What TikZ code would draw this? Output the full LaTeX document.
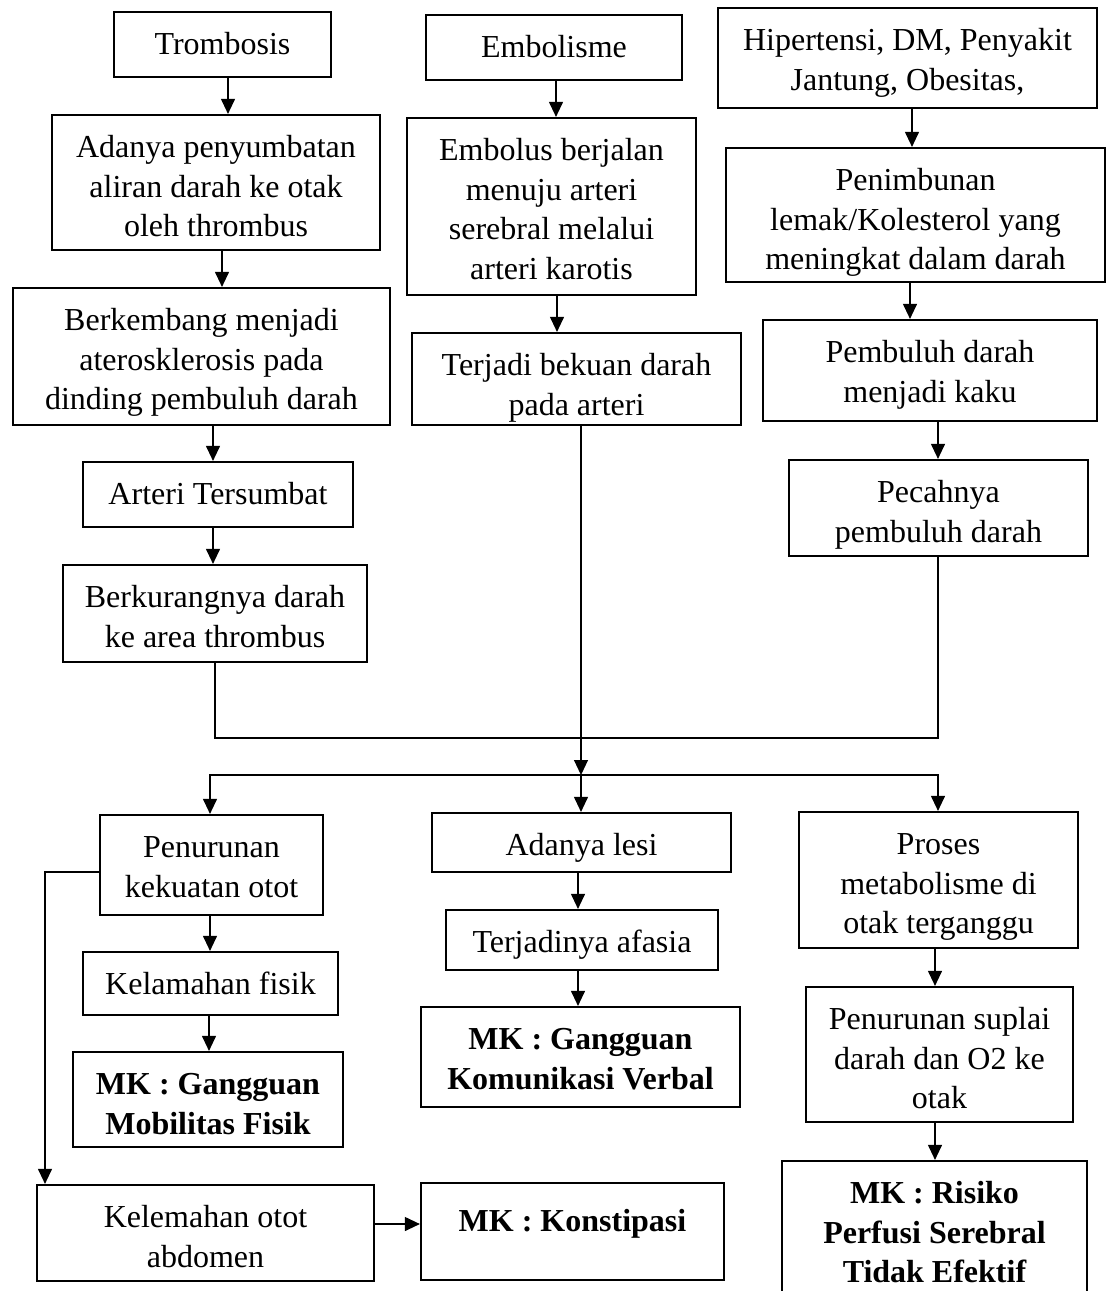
\documentclass[tikz,border=0pt]{standalone}
\usepackage{fontspec}
\setmainfont{Liberation Serif}
\usetikzlibrary{arrows.meta}
\newcommand\firstbl{21.25pt}
\tikzset{
  box/.style={draw, line width=1.1pt, inner sep=0pt, font=\fontsize{16}{19.75}\selectfont},
  bbox/.style={box, font=\bfseries\fontsize{16}{19.75}\selectfont},
  tb/.style n args={5}{at={({(#1+#3)/2},{(#2+#4)/2})},
    node contents={\parbox[c][\dimexpr(#4pt-#2pt)/2\relax][t]{\dimexpr(#3pt-#1pt)/2\relax}{\centering\rule{0pt}{\firstbl}#5\par}}},
  arr/.style={line width=0.55pt, -{Triangle[width=7pt,length=7.5pt]}},
  ln/.style={line width=0.55pt},
}
\begin{document}
\begin{tikzpicture}[x=0.5pt, y=-0.5pt]
\fill[white] (0,0) rectangle (1110,1291);
\useasboundingbox (0,0) rectangle (1110,1291);
% left column
\node (trom) [box, tb={114}{12}{331}{77}{Trombosis}];
\node (adanya) [box, tb={52}{115}{380}{250}{Adanya penyumbatan\\aliran darah ke otak\\oleh thrombus}];
\node (berk1) [box, tb={13}{288}{390}{425}{Berkembang menjadi\\aterosklerosis pada\\dinding pembuluh darah}];
\node (arteri) [box, tb={83}{462}{353}{527}{Arteri Tersumbat}];
\node (kurang) [box, tb={63}{565}{367}{662}{Berkurangnya darah\\ke area thrombus}];
% middle column
\node (emb) [box, tb={426}{15}{682}{80}{Embolisme}];
\node (embolus) [box, tb={407}{118}{696}{295}{Embolus berjalan\\menuju arteri\\serebral melalui\\arteri karotis}];
\node (terjadi) [box, tb={412}{333}{741}{425}{Terjadi bekuan darah\\pada arteri}];
% right column
\node (hip) [box, tb={718}{8}{1097}{108}{Hipertensi, DM, Penyakit\\Jantung, Obesitas,}];
\node (penimb) [box, tb={726}{148}{1105}{282}{Penimbunan\\lemak/Kolesterol yang\\meningkat dalam darah}];
\node (kaku) [box, tb={763}{320}{1097}{421}{Pembuluh darah\\menjadi kaku}];
\node (pecah) [box, tb={789}{460}{1088}{556}{Pecahnya\\pembuluh darah}];
% bottom
\node (penur) [box, tb={100}{815}{323}{915}{Penurunan\\kekuatan otot}];
\node (fisik) [box, tb={83}{952}{338}{1015}{Kelamahan fisik}];
\node (mk1) [bbox, tb={73}{1052}{343}{1147}{MK : Gangguan\\Mobilitas Fisik}];
\node (abd) [box, tb={37}{1185}{374}{1281}{Kelemahan otot\\abdomen}];
\node (konst) [bbox, tb={421}{1183}{724}{1280}{\rule{0pt}{24pt}MK : Konstipasi}];
\node (lesi) [box, tb={432}{813}{731}{872}{Adanya lesi}];
\node (afasia) [box, tb={446}{910}{718}{970}{Terjadinya afasia}];
\node (mk2) [bbox, tb={421}{1007}{740}{1107}{MK : Gangguan\\Komunikasi Verbal}];
\node (proses) [box, tb={799}{812}{1078}{948}{Proses\\metabolisme di\\otak terganggu}];
\node (suplai) [box, tb={806}{987}{1073}{1122}{Penurunan suplai\\darah dan O2 ke\\otak}];
\node (mk3) [bbox, tb={782}{1161}{1087}{1305}{MK : Risiko\\Perfusi Serebral\\Tidak Efektif}];
% junctions
\coordinate (j1) at (581,738);
\coordinate (j2) at (581,775);
% arrows
\draw[arr] (trom.south -| 228,0) -- (adanya.north -| 228,0);
\draw[arr] (adanya.south -| 222,0) -- (berk1.north -| 222,0);
\draw[arr] (berk1.south -| 213,0) -- (arteri.north -| 213,0);
\draw[arr] (arteri.south -| 213,0) -- (kurang.north -| 213,0);
\draw[arr] (emb.south -| 556,0) -- (embolus.north -| 556,0);
\draw[arr] (embolus.south -| 557,0) -- (terjadi.north -| 557,0);
\draw[arr] (hip.south -| 912,0) -- (penimb.north -| 912,0);
\draw[arr] (penimb.south -| 910,0) -- (kaku.north -| 910,0);
\draw[arr] (kaku.south -| 938,0) -- (pecah.north -| 938,0);
\draw[ln] (kurang.south -| 215,0) |- (j1) -| (pecah.south -| 938,0);
\draw[arr] (terjadi.south -| 581,0) -- (j2);
\draw[arr] (j2) -| (penur.north -| 210,0);
\draw[arr] (j2) -- (lesi.north -| 581,0);
\draw[arr] (j2) -| (proses.north -| 938,0);
\draw[arr] (penur.south -| 210,0) -- (fisik.north -| 210,0);
\draw[arr] (fisik.south -| 209,0) -- (mk1.north -| 209,0);
\draw[arr] (penur.west |- 0,872) -| (abd.north -| 45,0);
\draw[arr] (abd.east |- 0,1224) -- (konst.west |- 0,1224);
\draw[arr] (lesi.south -| 578,0) -- (afasia.north -| 578,0);
\draw[arr] (afasia.south -| 578,0) -- (mk2.north -| 578,0);
\draw[arr] (proses.south -| 935,0) -- (suplai.north -| 935,0);
\draw[arr] (suplai.south -| 935,0) -- (mk3.north -| 935,0);
\end{tikzpicture}
\end{document}
